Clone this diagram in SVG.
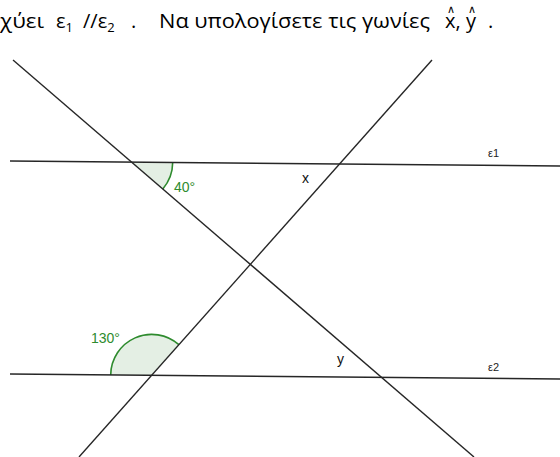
<svg xmlns="http://www.w3.org/2000/svg" width="560" height="457" viewBox="0 0 560 457">
<style>
.ln{stroke:#262626;stroke-width:1.4;fill:none}
.ang{fill:#e4efe4;stroke:none}
.arc{fill:none;stroke:#2e8b2e;stroke-width:1.6}
.gl{font-family:"Liberation Sans",Arial,sans-serif;font-size:14px;fill:#2e8b2e}
.lb{font-family:"Liberation Sans",Arial,sans-serif;font-size:14px;fill:#111}
.el{font-family:"Liberation Sans",Arial,sans-serif;font-size:11px;fill:#222}
.tt{font-family:"Open Sans","Noto Sans","DejaVu Sans",sans-serif;font-size:20px;fill:#000}
.sb{font-family:"Open Sans","Noto Sans","DejaVu Sans",sans-serif;font-size:13px}
.ht{font-family:"Open Sans","Noto Sans","DejaVu Sans",sans-serif;font-size:11px;fill:#000}
</style>
<g id="title">
<text class="tt" x="0" y="28" textLength="44" lengthAdjust="spacingAndGlyphs">χύει</text>
<text class="tt" x="56" y="28">ε<tspan class="sb" y="32">1</tspan></text>
<text class="tt" x="83" y="28">//ε<tspan class="sb" y="32">2</tspan></text>
<text class="tt" x="131" y="28">.</text>
<text class="tt" x="159" y="28" textLength="271" lengthAdjust="spacingAndGlyphs">Να υπολογίσετε τις γωνίες</text>
<text class="tt" x="445" y="28">x,</text>
<text class="tt" x="466" y="28">y</text>
<text class="tt" x="488" y="28">.</text>
<text class="ht" x="447" y="13">∧</text>
<text class="ht" x="468" y="13">∧</text>
</g>
<g id="angle40">
<path class="ang" d="M131.7,162.1 L172.7,162.5 A41,41 0 0 1 162.8,188.9 Z"/>
<path class="arc" d="M172.7,162.5 A41,41 0 0 1 162.8,188.9"/>
<text class="gl" x="174" y="192">40°</text>
</g>
<g id="angle130">
<path class="ang" d="M151.7,375.3 L178.9,344.7 A41,41 0 0 0 110.7,374.9 Z"/>
<path class="arc" d="M178.9,344.7 A41,41 0 0 0 110.7,374.9"/>
<text class="gl" x="91" y="343">130°</text>
</g>
<g id="connectors">
<line id="e1" class="ln" x1="10" y1="161" x2="560" y2="166"/>
<line id="e2" class="ln" x1="10" y1="374" x2="560" y2="379"/>
<line id="t1" class="ln" x1="13" y1="60" x2="474" y2="457"/>
<line id="t2" class="ln" x1="432" y1="60" x2="79" y2="457"/>
</g>
<g id="labels">
<text class="lb" x="302" y="183">x</text>
<text class="lb" x="337" y="364">y</text>
<text class="el" x="488" y="157">ε1</text>
<text class="el" x="488" y="371">ε2</text>
</g>
</svg>
